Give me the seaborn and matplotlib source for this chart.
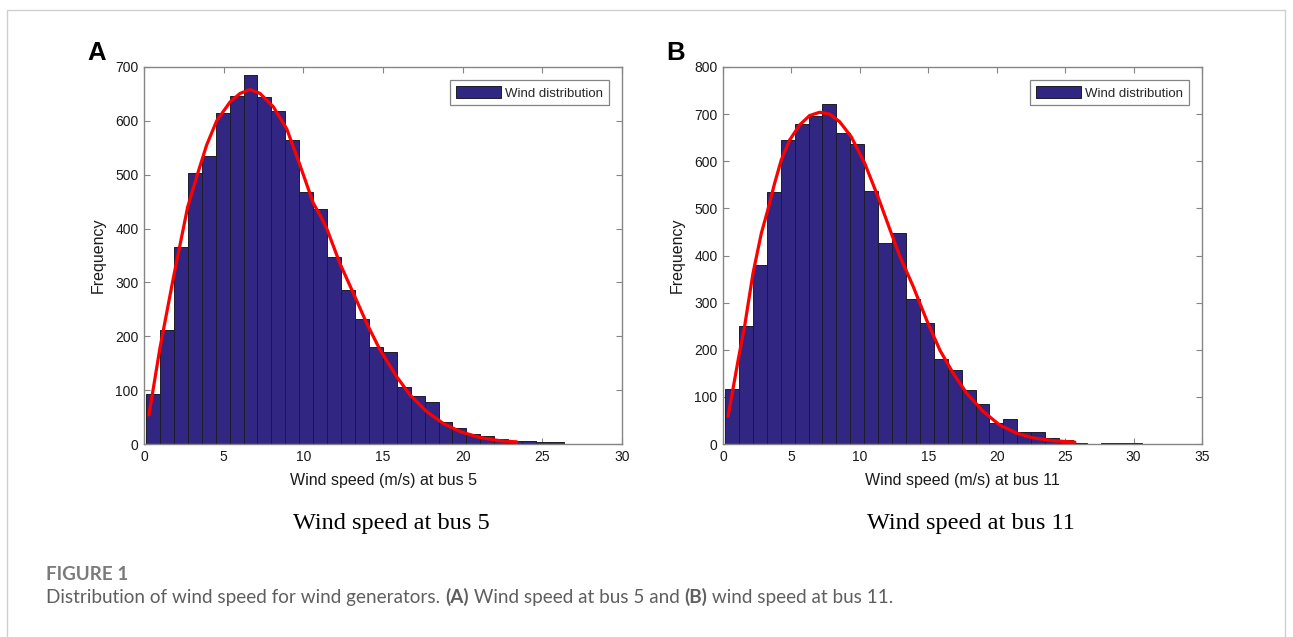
import numpy as np
import pandas as pd
import matplotlib
matplotlib.use("Agg")
import matplotlib.pyplot as plt
import seaborn as sns
from matplotlib.patches import Patch
from matplotlib.lines import Line2D

# ---------------- data ----------------
# Panel A: wind speed at bus 5, 30 equal-width bins between min and max
bus5_range = (0.13, 26.35)
bus5_counts = [92, 212, 365, 504, 535, 615, 647, 686, 645, 618,
               565, 468, 436, 348, 286, 233, 181, 170, 105, 90,
               78, 41, 30, 19, 15, 9, 5, 5, 3, 3]
bus5_fit_x = [0.31, 1.0, 1.84, 2.74, 3.41, 3.93, 4.56, 5.40, 6.03, 6.65,
              7.28, 8.12, 8.96, 9.75, 10.63, 11.05, 11.47, 12.30, 13.14, 13.98,
              14.81, 15.86, 16.70, 17.75, 18.79, 19.84, 21.09, 22.35, 23.39]
bus5_fit_y = [54, 178, 308, 440, 506, 555, 600, 635, 651, 658,
              651, 626, 585, 521, 447, 425, 400, 335, 280, 224,
              175, 125, 91, 60, 38, 23, 12, 6, 4]

# Panel B: wind speed at bus 11
bus11_range = (0.15, 30.65)
bus11_counts = [117, 250, 380, 534, 645, 680, 695, 721, 659, 636,
                537, 427, 448, 308, 257, 180, 156, 114, 84, 44,
                52, 26, 26, 13, 8, 3, 1, 3, 2, 2]
bus11_fit_x = [0.37, 1.15, 1.58, 2.19, 2.80, 3.24, 3.77, 4.26, 4.87, 5.60,
               6.33, 7.06, 7.79, 8.52, 9.37, 10.35, 11.32, 12.30, 12.93, 13.90,
               14.88, 15.85, 16.82, 17.80, 19.01, 20.23, 21.45, 22.67, 24.13, 25.71]
bus11_fit_y = [59, 185, 250, 362, 447, 493, 553, 603, 645, 677,
               697, 704, 700, 684, 652, 596, 525, 447, 398, 334,
               263, 199, 150, 108, 69, 40, 23, 13, 7, 4]

panel_letters = ["A", "B"]
x_labels = ["Wind speed (m/s) at bus 5", "Wind speed (m/s) at bus 11"]
subtitles = ["Wind speed at bus 5", "Wind speed at bus 11"]
y_label = "Frequency"
legend_label = "Wind distribution"
x_ticks = [[0, 5, 10, 15, 20, 25, 30], [0, 5, 10, 15, 20, 25, 30, 35]]
y_ticks = [[0, 100, 200, 300, 400, 500, 600, 700],
           [0, 100, 200, 300, 400, 500, 600, 700, 800]]
caption_head = "FIGURE 1"
caption_parts = [("Distribution of wind speed for wind generators. ", "normal"),
                 ("(A)", "bold"),
                 (" Wind speed at bus 5 and ", "normal"),
                 ("(B)", "bold"),
                 (" wind speed at bus 11.", "normal")]

# ---------------- style ----------------
sns.set_theme(style="ticks")
plt.rcParams["font.family"] = ["Liberation Sans", "DejaVu Sans"]

BAR = "#312782"
EDGE = "#1c1c2a"
SPINE = "#858585"
W, H = 1293, 637

fig = plt.figure(figsize=(W / 100, H / 100), dpi=100)
fig.patch.set_facecolor("white")


def fx(px):
    return px / W


def fy(py):
    return 1 - py / H


axes_px = [(144, 622), (723, 1202)]
top_px, bot_px = 67, 444

datasets = [
    (bus5_range, bus5_counts, bus5_fit_x, bus5_fit_y),
    (bus11_range, bus11_counts, bus11_fit_x, bus11_fit_y),
]

for i, ((lo, hi), counts, fit_x, fit_y) in enumerate(datasets):
    x0, x1 = axes_px[i]
    ax = fig.add_axes([fx(x0), fy(bot_px), fx(x1 - x0), (bot_px - top_px) / H])
    nb = len(counts)
    width = (hi - lo) / nb
    centers = [lo + width * (k + 0.5) for k in range(nb)]
    df = pd.DataFrame({"speed": centers, "count": counts})
    sns.histplot(data=df, x="speed", weights="count", bins=nb,
                 binrange=(lo, hi), ax=ax,
                 color=BAR, edgecolor=EDGE, linewidth=0.7, alpha=1.0)
    fit = pd.DataFrame({"x": fit_x, "y": fit_y})
    sns.lineplot(data=fit, x="x", y="y", ax=ax, color="#ff0000",
                 linewidth=2.3, estimator=None)
    ax.set_xlim(x_ticks[i][0], x_ticks[i][-1])
    ax.set_ylim(y_ticks[i][0], y_ticks[i][-1])
    ax.set_xticks(x_ticks[i])
    ax.set_yticks(y_ticks[i])
    ax.tick_params(direction="in", top=True, right=True, length=4,
                   width=0.8, color=SPINE, labelsize=10, labelcolor="#1a1a1a",
                   pad=4)
    for s in ax.spines.values():
        s.set_color(SPINE)
        s.set_linewidth(1.0)
        s.set_visible(True)
    ax.set_xlabel(x_labels[i], fontsize=11.5, color="#1a1a1a")
    ax.set_ylabel(y_label, fontsize=11.5, color="#1a1a1a")
    ax.xaxis.set_label_coords(0.5, -0.076)
    ax.yaxis.set_label_coords(-0.08, 0.5)
    handles = [Patch(facecolor=BAR, edgecolor=EDGE, linewidth=0.7,
                     label=legend_label)]
    leg = ax.legend(handles=handles, loc="upper right", fontsize=9.5,
                    frameon=True, fancybox=False, framealpha=1,
                    edgecolor=SPINE, handlelength=3.4, handleheight=1.0,
                    borderaxespad=1.0, borderpad=0.45, handletextpad=0.3)
    leg.get_frame().set_linewidth(0.9)
    # panel letter
    fig.text(fx(x0 - 47), fy(53), panel_letters[i], fontsize=18.5,
             fontweight="bold", ha="center", va="center", color="black")
    # subtitle below the chart
    fig.text(fx((x0 + x1) / 2 + 8), fy(523), subtitles[i],
             fontsize=17.5, family=["Liberation Serif", "DejaVu Serif"],
             ha="center", va="center", color="black")

# outer frame (open at the bottom)
frame_col = "#cfcfcf"
fig.add_artist(Line2D([fx(7), fx(7)], [0, fy(10)], color=frame_col, lw=1.0))
fig.add_artist(Line2D([fx(7), fx(1285)], [fy(10), fy(10)], color=frame_col, lw=1.0))
fig.add_artist(Line2D([fx(1285), fx(1285)], [0, fy(10)], color=frame_col, lw=1.0))

# caption
cap_font = ["Lato", "DejaVu Sans"]
renderer = fig.canvas.get_renderer()
cap_x0 = 46
# size the caption so that its first sentence spans the measured width
probe = fig.text(0, 0, caption_parts[0][0], fontsize=10, family=cap_font)
pw = probe.get_window_extent(renderer=renderer).width
probe.remove()
cap_size = 10 * (445 - cap_x0) / pw

fig.text(fx(cap_x0), fy(575), caption_head, fontsize=cap_size * 1.0,
         family=cap_font, fontweight="bold", color="#7a7a7a",
         ha="left", va="center")
xpos = fx(cap_x0)
for txt, wt in caption_parts:
    t = fig.text(xpos, fy(597), txt, fontsize=cap_size, family=cap_font,
                 fontweight=wt, color="#5f5f5f", ha="left", va="center")
    bb = t.get_window_extent(renderer=renderer)
    xpos += bb.width / W

fig.savefig("out.png", dpi=100, facecolor="white")
